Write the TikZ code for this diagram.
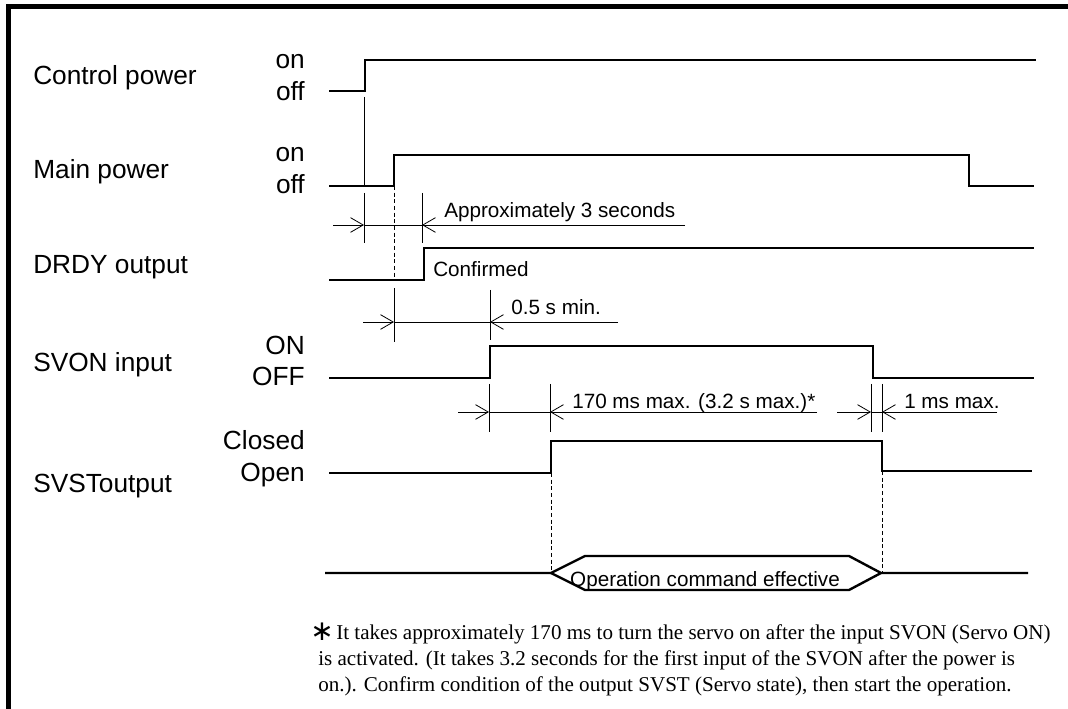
\documentclass[tikz,border=0pt]{standalone}
\usepackage{fontspec}
\setmainfont{Liberation Sans}
\newfontfamily\serifft{Liberation Serif}
\newfontfamily\dvs{DejaVu Sans}
\usetikzlibrary{arrows.meta}
\begin{document}
\begin{tikzpicture}[x=0.75pt,y=-0.75pt,
  sig/.style={line width=1.8pt, line join=miter},
  thinln/.style={line width=0.6pt},
  dashln/.style={line width=0.6pt, dash pattern=on 3pt off 2pt},
  dimarr/.style={line width=0.6pt,-{Straight Barb[length=9.5pt,width=11pt]}},
  biglabel/.style={font=\fontsize{19.7}{23}\selectfont, inner sep=0pt, anchor=base west},
  lvl/.style={font=\fontsize{19.7}{23}\selectfont, inner sep=0pt, anchor=base east},
  small/.style={font=\fontsize{15.5}{18}\selectfont, inner sep=0pt, anchor=base west},
  foot/.style={font=\serifft\fontsize{15.8}{19.5}\selectfont, inner sep=0pt, anchor=base west}]
\useasboundingbox (0,0) rectangle (1068,709);
\fill[white] (0,0) rectangle (1068,709);
% frame
\draw[line width=3.75pt] (8.5,709) -- (8.5,6.5) -- (1068,6.5);
% signal names
\node[biglabel] (ncp) at (33,85) {Control power};
\node[biglabel] (nmp) at (33,179) {Main power};
\node[biglabel] (ndr) at (33,274) {DRDY output};
\node[biglabel] (nsv) at (33,372) {SVON input};
\node[biglabel] (nss) at (33,492) {SVSToutput};
% level labels
\node[lvl] (cpon) at (305,69) {on};
\node[lvl] (cpoff) at (305,101) {off};
\node[lvl] (mpon) at (305,162) {on};
\node[lvl] (mpoff) at (305,194) {off};
\node[lvl] (svon) at (305,355) {ON};
\node[lvl] (svoff) at (305,386) {OFF};
\node[lvl] (ssc) at (305,450) {Closed};
\node[lvl] (sso) at (305,481) {Open};
% signals
\draw[sig] (329,91) -- (365,91) -- (365,60) -- (1036,60);
\draw[sig] (329,186) -- (394,186) -- (394,155) -- (969,155) -- (969,186) -- (1034,186);
\draw[sig] (329,280) -- (424,280) -- (424,248) -- (1034,248);
\draw[sig] (329,378) -- (490,378) -- (490,346) -- (873,346) -- (873,378) -- (1034,378);
\draw[sig] (329,473) -- (551,473) -- (551,441) -- (882,441) -- (882,471) -- (1032,471);
% bus
\draw[sig] (325,573) -- (551,573) -- (585,556) -- (849,556) -- (881,573) -- (1028,573);
\draw[sig] (551,573) -- (585,590) -- (849,590) -- (881,573);
\node[small, anchor=base] (op) at (705,586) {Operation command effective};
% extension / tick lines
\draw[thinln] (364,97) -- (364,186);
\draw[thinln] (364,193) -- (364,243);
\draw[thinln] (422,193) -- (422,243);
\draw[dashln] (394,186) -- (394,280);
\draw[thinln] (394,288) -- (394,342);
\draw[thinln] (490,290) -- (490,340);
\draw[thinln] (489,384) -- (489,432);
\draw[thinln] (550,384) -- (550,432);
\draw[thinln] (871,384) -- (871,432);
\draw[thinln] (882,384) -- (882,432);
\draw[dashln] (551,473) -- (551,573);
\draw[dashln] (882,471) -- (882,573);
% dimension 1
\coordinate (a1) at (333,225); \coordinate (a2) at (364,225);
\coordinate (a3) at (422,225); \coordinate (a4) at (685,225);
\draw[dimarr] (a1) -- (a2);
\draw[thinln] (a2) -- (a3);
\draw[dimarr] (a4) -- (a3);
\node[small] (t1) at (444,218) {Approximately 3 seconds};
\node[small] (t2) at (433,277) {Confirmed};
% dimension 2
\coordinate (b1) at (363,322); \coordinate (b2) at (394,322);
\coordinate (b3) at (490,322); \coordinate (b4) at (618,322);
\draw[dimarr] (b1) -- (b2);
\draw[thinln] (b2) -- (b3);
\draw[dimarr] (b4) -- (b3);
\node[small] (t3) at (511,315) {0.5 s min.};
% dimension 3
\coordinate (c1) at (458,412); \coordinate (c2) at (489,412);
\coordinate (c3) at (550,412); \coordinate (c4) at (817,412);
\coordinate (c5) at (837,412); \coordinate (c6) at (871,412);
\coordinate (c7) at (882,412); \coordinate (c8) at (997,412);
\draw[dimarr] (c1) -- (c2);
\draw[thinln] (c2) -- (c3);
\draw[dimarr] (c4) -- (c3);
\draw[dimarr] (c5) -- (c6);
\draw[thinln] (c6) -- (c7);
\draw[dimarr] (c8) -- (c7);
\node[small] (t4) at (572,408) {170 ms max. (3.2 s max.)*};
\node[small] (t5) at (904,408) {1 ms max.};
% footnote
\node[inner sep=0pt, font=\dvs\fontsize{21}{21}\selectfont, anchor=base west] (ast) at (310,640) {∗};
\node[foot] (fn1) at (336,639) {It takes approximately 170 ms to turn the servo on after the input SVON (Servo ON)};
\node[foot] (fn2) at (318,665) {is activated. (It takes 3.2 seconds for the first input of the SVON after the power is};
\node[foot] (fn3) at (318,691) {on.). Confirm condition of the output SVST (Servo state), then start the operation.};
\end{tikzpicture}
\end{document}
